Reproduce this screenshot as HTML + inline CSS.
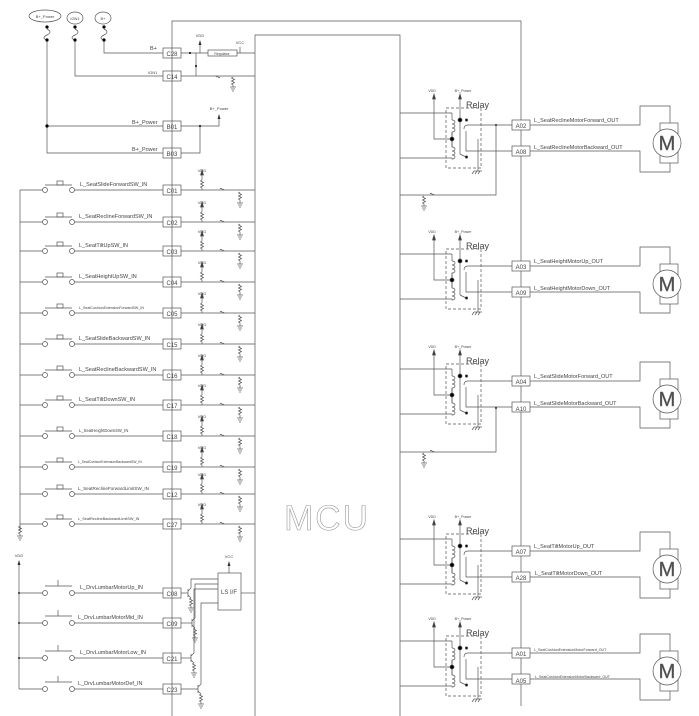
<!DOCTYPE html>
<html><head><meta charset="utf-8"><style>
html,body{margin:0;padding:0;background:#fff}
svg{display:block}
text{font-family:"Liberation Sans",sans-serif;fill:#444}
.l{stroke:#555;stroke-width:.7;fill:none}
.t{font-size:5.5px}
.s{font-size:4px}
.b{font-size:6px}
</style></head><body>
<svg width="699" height="716" viewBox="0 0 699 716" xmlns="http://www.w3.org/2000/svg">
<defs>
<g id="sw" class="l">
<line x1="20" y1="0" x2="42.5" y2="0"/><circle cx="45" cy="0" r="2.5"/><circle cx="72" cy="0" r="2.5"/>
<line x1="45" y1="-5" x2="72" y2="-5"/><rect x="57" y="-9" width="6" height="4"/>
<line x1="74.5" y1="0" x2="163" y2="0"/><rect x="163" y="-5" width="18" height="10"/>
<line x1="181" y1="0" x2="255" y2="0"/>
<line x1="202" y1="-19" x2="202" y2="-10"/><polygon points="200.5,-15 203.5,-15 202,-20" fill="#333"/>
<polyline points="202,-10 200.5,-9 203.5,-7.5 200.5,-6 203.5,-4.5 200.5,-3 202,-2 202,0"/>
<path d="M220,-1 q1,-1.5 2,0 q1,1.5 2,0"/>
<polyline points="240,2 238.5,3 241.5,4.5 238.5,6 241.5,7.5 238.5,9 240,10 240,13"/>
<line x1="237" y1="13" x2="243" y2="13"/><line x1="238" y1="15" x2="242" y2="15"/><line x1="239" y1="17" x2="241" y2="17"/>
</g>
<g id="relay" class="l">
<line x1="400" y1="-12" x2="452" y2="-12"/><line x1="400" y1="33" x2="452" y2="33"/>
<rect x="446" y="-17" width="35" height="60" stroke-dasharray="3,2"/>
<line x1="452" y1="-12" x2="452" y2="-5"/>
<path d="M452,-5 a3,2 0 1 1 0,4 a3,2 0 1 1 0,4 a3,2 0 1 1 0,4 L452,22 a3,2 0 1 1 0,4 a3,2 0 1 1 0,4 a3,2 0 1 1 0,4 L452,33"/>
<line x1="452" y1="7" x2="452" y2="22"/>
<polyline points="434,-30 434,14 452,14"/><polygon points="432.5,-26 435.5,-26 434,-31" fill="#333"/>
<line x1="460" y1="-30" x2="460" y2="29"/><polygon points="458.5,-26 461.5,-26 460,-31" fill="#333"/>
<line x1="460" y1="29" x2="466" y2="32"/>
<path d="M464,4 q0,-4 4,-4"/><line x1="468" y1="0" x2="521" y2="0"/>
<polyline points="466,6 466,26 470,26"/><line x1="470" y1="26" x2="521" y2="26"/>
<line x1="478" y1="14" x2="478" y2="46"/>
<line x1="474" y1="46" x2="482" y2="46"/><line x1="474" y1="46" x2="472" y2="49"/><line x1="477" y1="46" x2="475" y2="49"/><line x1="480" y1="46" x2="478" y2="49"/>
<circle cx="460" cy="-5" r="2" fill="#000"/><circle cx="466.5" cy="-5" r="1.2" fill="#000"/>
<circle cx="452" cy="14" r="2" fill="#000"/><circle cx="466.5" cy="32" r="1.2" fill="#000"/>
<rect x="512" y="-5" width="18" height="10" fill="#fff"/><rect x="512" y="21" width="18" height="10" fill="#fff"/>
</g>
<g id="motor" class="l">
<polyline points="530,0 640,0 640,-19 670,-19 670,-2"/>
<polyline points="530,26 640,26 640,47 670,47 670,38"/>
<rect x="660" y="-2" width="18" height="40"/>
<circle cx="667" cy="18" r="14" fill="#fff"/>
</g>
<g id="gnd" class="l">
<polyline points="0,0 -1.5,1 1.5,2.5 -1.5,4 1.5,5.5 -1.5,7 0,8 0,10"/>
<line x1="-3" y1="10" x2="3" y2="10"/><line x1="-2" y1="12" x2="2" y2="12"/><line x1="-1" y1="14" x2="1" y2="14"/>
</g>
</defs>

<polyline class="l" points="172,716 172,21 521,21 521,706"/>
<polyline class="l" points="255,716 255,35 400,35 400,716"/>
<text x="327" y="530" text-anchor="middle" style="font-size:35px;letter-spacing:2px;fill:#fff;stroke:#999;stroke-width:.6">MCU</text>

<g class="l">
<ellipse cx="45" cy="16" rx="16" ry="6"/><ellipse cx="75" cy="18" rx="8" ry="6"/><ellipse cx="103" cy="18" rx="8" ry="6"/>
<path d="M47,29 q6,3 0,6 q-6,3 0,5 M75,29 q6,3 0,6 q-6,3 0,5 M104,29 q6,3 0,6 q-6,3 0,5"/>
<polyline points="104,40 104,53 163,53"/><polyline points="75,40 75,76 163,76"/>
<polyline points="47,40 47,153 163,153"/><line x1="47" y1="126" x2="163" y2="126"/>
<rect x="163" y="48" width="18" height="10"/><rect x="163" y="71" width="18" height="10"/>
<rect x="163" y="121" width="18" height="10"/><rect x="163" y="148" width="18" height="10"/>
<line x1="181" y1="53" x2="208" y2="53"/><rect x="208" y="50" width="29" height="6"/><line x1="237" y1="53" x2="255" y2="53"/>
<line x1="200" y1="53" x2="200" y2="42"/><line x1="240" y1="53" x2="240" y2="47"/>
<line x1="196" y1="53" x2="196" y2="76"/><line x1="181" y1="76" x2="255" y2="76"/>
<path d="M216,77 q1,-1.5 2,0 q1,1.5 2,0"/>
<polyline points="181,126 200,126 200,153 181,153"/><polyline points="200,126 219,126 219,116"/>
</g>
<polygon points="198.5,45 201.5,45 200,40" fill="#333"/><polygon points="217.5,119 220.5,119 219,114" fill="#333"/>
<use href="#gnd" x="233" y="77"/>
<g fill="#000"><circle cx="47" cy="27" r="1.6"/><circle cx="75" cy="27" r="1.6"/><circle cx="104" cy="27" r="1.6"/>
<circle cx="47" cy="40" r="1.6"/><circle cx="75" cy="40" r="1.6"/><circle cx="104" cy="40" r="1.6"/>
<circle cx="47" cy="126" r="1.6"/><circle cx="190" cy="53" r="1"/><circle cx="196" cy="66" r="1"/><circle cx="200" cy="126" r="1"/></g>
<text class="s" x="45" y="18" text-anchor="middle">B+_Power</text>
<text class="s" x="75" y="20" text-anchor="middle">IGN1</text>
<text class="s" x="103" y="20" text-anchor="middle">B+</text>
<text class="t" x="150" y="50">B+</text><text class="s" x="148" y="74">IGN1</text>
<text class="t" x="132" y="124">B+_Power</text><text class="t" x="132" y="151">B+_Power</text>
<text class="b" x="172" y="56" text-anchor="middle">C28</text><text class="b" x="172" y="79" text-anchor="middle">C14</text>
<text class="b" x="172" y="129" text-anchor="middle">B01</text><text class="b" x="172" y="156" text-anchor="middle">B03</text>
<text class="s" x="200" y="37" text-anchor="middle">VDD</text><text class="s" x="240" y="44" text-anchor="middle">VCC</text>
<text class="s" x="222" y="55" text-anchor="middle" style="font-size:3.5px">Regulator</text>
<text class="s" x="219" y="110" text-anchor="middle">B+_Power</text>

<line class="l" x1="20" y1="190" x2="20" y2="530"/><use href="#gnd" x="20" y="526"/>
<use href="#sw" y="190"/><use href="#sw" y="222"/><use href="#sw" y="251"/><use href="#sw" y="282"/>
<use href="#sw" y="313"/><use href="#sw" y="344"/><use href="#sw" y="375"/><use href="#sw" y="405"/>
<use href="#sw" y="436"/><use href="#sw" y="467"/><use href="#sw" y="494"/><use href="#sw" y="524"/>
<g class="b" text-anchor="middle">
<text x="172" y="193">C01</text><text x="172" y="225">C02</text><text x="172" y="254">C03</text><text x="172" y="285">C04</text>
<text x="172" y="316">C05</text><text x="172" y="347">C15</text><text x="172" y="378">C16</text><text x="172" y="408">C17</text>
<text x="172" y="439">C18</text><text x="172" y="470">C19</text><text x="172" y="497">C12</text><text x="172" y="527">C27</text>
</g>
<g class="t">
<text x="80" y="186">L_SeatSlideForwardSW_IN</text>
<text x="79" y="218">L_SeatReclineForwardSW_IN</text>
<text x="79" y="247">L_SeatTiltUpSW_IN</text>
<text x="79" y="278">L_SeatHeightUpSW_IN</text>
<text x="79" y="309" style="font-size:3.6px">L_SeatCushionExtensionForwardSW_IN</text>
<text x="79" y="340">L_SeatSlideBackwardSW_IN</text>
<text x="79" y="371">L_SeatReclineBackwardSW_IN</text>
<text x="79" y="401">L_SeatTiltDownSW_IN</text>
<text x="79" y="432" style="font-size:4.2px">L_SeatHeightDownSW_IN</text>
<text x="78" y="463" style="font-size:3.4px">L_SeatCushionExtensionBackwardSW_IN</text>
<text x="78" y="490" style="font-size:4.6px">L_SeatReclineForwardLimitSW_IN</text>
<text x="78" y="520" style="font-size:3.8px">L_SeatReclineBackwardLimitSW_IN</text>
</g>
<g class="s" text-anchor="middle">
<text x="202" y="172">VDD</text><text x="202" y="204">VDD</text><text x="202" y="233">VDD</text><text x="202" y="264">VDD</text>
<text x="202" y="295">VDD</text><text x="202" y="326">VDD</text><text x="202" y="357">VDD</text><text x="202" y="387">VDD</text>
<text x="202" y="418">VDD</text><text x="202" y="449">VDD</text><text x="202" y="476">VDD</text><text x="202" y="506">VDD</text>
</g>

<g class="l">
<line x1="19" y1="565" x2="19" y2="689"/>
<line x1="19" y1="593" x2="42.5" y2="593"/><line x1="19" y1="623" x2="42.5" y2="623"/><line x1="19" y1="658" x2="42.5" y2="658"/><line x1="19" y1="689" x2="42.5" y2="689"/>
<circle cx="45" cy="593" r="2.5"/><circle cx="72" cy="593" r="2.5"/><circle cx="45" cy="623" r="2.5"/><circle cx="72" cy="623" r="2.5"/>
<circle cx="45" cy="658" r="2.5"/><circle cx="72" cy="658" r="2.5"/><circle cx="45" cy="689" r="2.5"/><circle cx="72" cy="689" r="2.5"/>
<polyline points="45,586 58,586 58,580 58,586 72,586"/><polyline points="45,616 58,616 58,610 58,616 72,616"/>
<polyline points="45,651 58,651 58,645 58,651 72,651"/><polyline points="45,682 58,682 58,676 58,682 72,682"/>
<line x1="74.5" y1="593" x2="163" y2="593"/><line x1="74.5" y1="623" x2="163" y2="623"/><line x1="74.5" y1="658" x2="163" y2="658"/><line x1="74.5" y1="689" x2="163" y2="689"/>
<rect x="163" y="588" width="18" height="10"/><rect x="163" y="618" width="18" height="10"/><rect x="163" y="653" width="18" height="10"/><rect x="163" y="684" width="18" height="10"/>
<line x1="181" y1="593" x2="188" y2="593"/><line x1="181" y1="623" x2="192" y2="623"/><line x1="181" y1="658" x2="191" y2="658"/><line x1="181" y1="689" x2="198" y2="689"/>
<path d="M188,589 v8 M188,591 l3,-3 v-9 h27 M188,595 l3,3"/>
<path d="M192,619 v8 M192,621 l3,-3 v-34 h23 M192,625 l3,3"/>
<path d="M191,654 v8 M191,656 l3,-3 v-64 h24 M191,660 l3,3"/>
<path d="M198,685 v8 M198,687 l3,-3 v-81 h17 M198,691 l3,3"/>
<rect x="218" y="573" width="23" height="37"/><line x1="241" y1="593" x2="255" y2="593"/>
<line x1="229" y1="573" x2="229" y2="565"/>
</g>
<use href="#gnd" x="191" y="598"/><use href="#gnd" x="195" y="628"/><use href="#gnd" x="194" y="663"/><use href="#gnd" x="201" y="694"/>
<polygon points="17.5,565 20.5,565 19,560" fill="#333"/><polygon points="227.5,566 230.5,566 229,561" fill="#333"/>
<g fill="#000"><circle cx="19" cy="593" r=".9"/><circle cx="19" cy="623" r=".9"/><circle cx="19" cy="658" r=".9"/></g>
<text class="s" x="19" y="557" text-anchor="middle">VDD</text><text class="s" x="229" y="558" text-anchor="middle">VCC</text>
<text class="b" x="229" y="594" text-anchor="middle">LS I/F</text>
<g class="b" text-anchor="middle"><text x="172" y="596">C08</text><text x="172" y="626">C09</text><text x="172" y="661">C21</text><text x="172" y="692">C23</text></g>
<g class="t"><text x="80" y="589">L_DrvLumbarMotorUp_IN</text><text x="78" y="619">L_DrvLumbarMotorMid_IN</text>
<text x="80" y="654">L_DrvLumbarMotorLow_IN</text><text x="78" y="685">L_DrvLumbarMotorDef_IN</text></g>

<use href="#relay" y="125"/><use href="#relay" y="266"/><use href="#relay" y="381"/><use href="#relay" y="551"/><use href="#relay" y="653"/>
<use href="#motor" y="125"/><use href="#motor" y="266"/><use href="#motor" y="381"/><use href="#motor" y="551"/><use href="#motor" y="653"/>
<g class="l"><polyline points="496,125 496,195 400,195"/><polyline points="496,408 496,452 400,452"/>
<path d="M430,194 q1,-1.5 2,0 q1,1.5 2,0 M430,451 q1,-1.5 2,0 q1,1.5 2,0"/></g>
<use href="#gnd" x="424" y="196"/><use href="#gnd" x="424" y="453"/>
<g fill="#000"><circle cx="496" cy="125" r=".9"/><circle cx="496" cy="408" r=".9"/></g>
<g class="b" text-anchor="middle">
<text x="521" y="128">A02</text><text x="521" y="154">A08</text><text x="521" y="269">A03</text><text x="521" y="295">A09</text>
<text x="521" y="384">A04</text><text x="521" y="411">A10</text><text x="521" y="554">A07</text><text x="521" y="580">A28</text>
<text x="521" y="656">A01</text><text x="521" y="683">A05</text>
</g>
<g style="font-size:9px;fill:#aaa">
<text x="466" y="108">Relay</text><text x="466" y="249">Relay</text><text x="466" y="364">Relay</text><text x="466" y="534">Relay</text><text x="466" y="636">Relay</text>
</g>
<g class="s" text-anchor="middle" style="font-size:3.6px">
<text x="432" y="92">VDD</text><text x="463" y="92">B+_Power</text>
<text x="432" y="233">VDD</text><text x="463" y="233">B+_Power</text>
<text x="432" y="348">VDD</text><text x="463" y="348">B+_Power</text>
<text x="432" y="518">VDD</text><text x="463" y="518">B+_Power</text>
<text x="432" y="620">VDD</text><text x="463" y="620">B+_Power</text>
</g>
<g class="t">
<text x="534" y="122">L_SeatReclineMotorForward_OUT</text>
<text x="534" y="149">L_SeatReclineMotorBackward_OUT</text>
<text x="534" y="263">L_SeatHeightMotorUp_OUT</text>
<text x="534" y="290">L_SeatHeightMotorDown_OUT</text>
<text x="534" y="378">L_SeatSlideMotorForward_OUT</text>
<text x="534" y="405">L_SeatSlideMotorBackward_OUT</text>
<text x="534" y="548">L_SeatTiltMotorUp_OUT</text>
<text x="535" y="575">L_SeatTiltMotorDown_OUT</text>
<text x="534" y="651" style="font-size:3.6px">L_SeatCushionExtensionMotorForward_OUT</text>
<text x="535" y="678" style="font-size:3.6px">L_SeatCushionExtensionMotorBackward_OUT</text>
</g>
<g style="font-size:20px;fill:#fff;stroke:#777;stroke-width:.5" text-anchor="middle">
<text x="667" y="150">M</text><text x="667" y="291">M</text><text x="667" y="406">M</text><text x="667" y="576">M</text><text x="667" y="678">M</text>
</g>
</svg>
</body></html>
